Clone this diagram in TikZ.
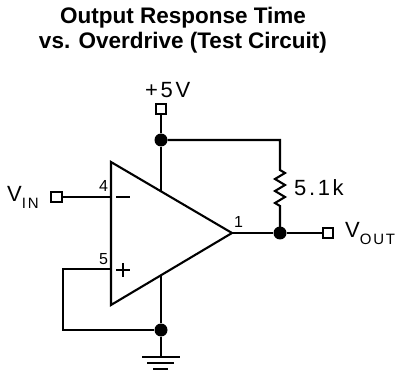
\documentclass[tikz,border=0pt]{standalone}
\usepackage{fontspec}
\setmainfont{Liberation Sans}
\usetikzlibrary{shapes.geometric}
\tikzstyle{wire} = [line width=2.1pt, line join=miter]
\tikzstyle{term} = [rectangle, draw=black, line width=2.1pt, minimum size=10.5pt, inner sep=0pt, fill=white]
\tikzstyle{junction} = [circle, fill=black, minimum size=13pt, inner sep=0pt]
\tikzstyle{lbl} = [inner sep=0pt, anchor=base west, font=\fontsize{22}{25}\selectfont\addfontfeatures{LetterSpace=12}]
\tikzstyle{pinnum} = [inner sep=0pt, anchor=base west, font=\fontsize{16}{18}\selectfont]
\newcommand*{\subtxt}[1]{\raisebox{-7pt}{\fontsize{15}{15}\selectfont #1}}

\begin{document}
\begin{tikzpicture}[x=1pt, y=-1pt]
  \useasboundingbox (0,0) rectangle (399,374);

  % Title
  \node[align=center, inner sep=0pt, font=\fontsize{22.5}{25}\selectfont\bfseries] (title) at (183, 30) {Output Response Time\\vs. Overdrive (Test Circuit)};

  % Op amp
  \coordinate (tri_top) at (111, 162);
  \coordinate (tri_bot) at (111, 305);
  \coordinate (tri_tip) at (232, 233);
  \draw[wire] (tri_top) -- (tri_tip) -- (tri_bot) -- cycle;
  \coordinate (in_neg) at (111, 197);
  \coordinate (in_pos) at (111, 269);
  \coordinate (vcc_pin) at (161, 190.7);
  \coordinate (gnd_pin) at (161, 275.3);
  \draw[wire] (116, 197) -- (130, 197);
  \draw[wire] (123, 263) -- (123, 277) (116, 270) -- (130, 270);
  \node[pinnum] (pin4) at (99, 192) {4};
  \node[pinnum] (pin5) at (99, 265) {5};
  \node[pinnum] (pin1) at (234, 228) {1};

  % Supply
  \node[lbl] (vcc_lbl) at (145, 98) {+5V};
  \node[term] (vcc) at (161, 109) {};
  \node[junction] (top_dot) at (161, 140) {};
  \coordinate (res_top) at (280, 140);
  \draw[wire] (vcc) -- (top_dot) -- (vcc_pin);
  \draw[wire] (top_dot) -- (res_top) -- (280, 170) -- (285, 173) -- (275, 179) -- (285, 185) -- (275, 191) -- (285, 197) -- (275, 203) -- (280, 206) -- (280, 233);
  \node[lbl] (res_lbl) at (294, 196) {5.1k};

  % Output
  \node[junction] (out_dot) at (280, 233) {};
  \node[term] (vout) at (328, 233) {};
  \draw[wire] (tri_tip) -- (out_dot) -- (vout);
  \node[lbl] (vout_lbl) at (345, 238) {V\subtxt{OUT}};

  % Input
  \node[term] (vin) at (56.5, 197) {};
  \draw[wire] (vin) -- (in_neg);
  \node[lbl] (vin_lbl) at (7, 202) {V\subtxt{IN}};

  % Ground
  \node[junction] (bot_dot) at (161, 330) {};
  \coordinate (loop_a) at (63, 269);
  \coordinate (loop_b) at (63, 330);
  \draw[wire] (in_pos) -- (loop_a) -- (loop_b) -- (bot_dot) -- (gnd_pin);
  \coordinate (gnd) at (161, 357);
  \draw[wire] (bot_dot) -- (gnd);
  \draw[wire] (142, 357) -- (180, 357) (147, 363) -- (174, 363) (153, 369) -- (168, 369);
\end{tikzpicture}
\end{document}
